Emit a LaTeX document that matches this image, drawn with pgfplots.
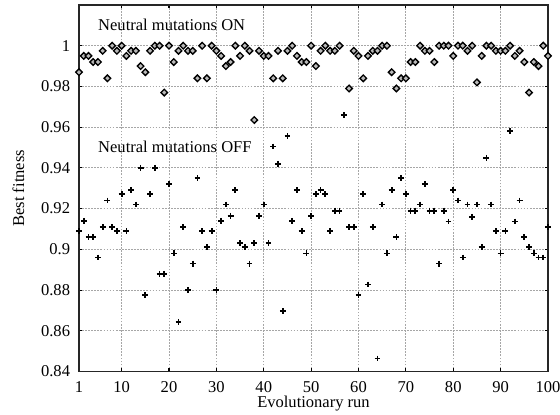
\documentclass[border=0pt]{standalone}
\usepackage{pgfplots}
\pgfplotsset{compat=1.18}
\usepackage{fontspec}
\setmainfont{Liberation Serif}
\begin{document}
\fontsize{12.4pt}{14pt}\selectfont
\begin{tikzpicture}
\begin{axis}[
  at={(0,0)}, anchor=south west,
  scale only axis,
  width=351.75pt, height=274.875pt,
  xmin=1, xmax=100, ymin=0.84, ymax=1.02,
  xtick={1,10,20,30,40,50,60,70,80,90,100},
  ytick={0.84,0.86,0.88,0.9,0.92,0.94,0.96,0.98,1},
  yticklabels={0.84,0.86,0.88,0.9,0.92,0.94,0.96,0.98,1},
  /pgf/number format/assume math mode=true,
  xticklabel style={yshift=-3.5pt},
  yticklabel style={xshift=-2.4pt},
  tick align=inside,
  major tick length=2.3pt,
  tick style={black, line width=0.8pt},
  grid=major,
  major grid style={gray!70, line width=0.6pt, dash pattern=on 1.3pt off 1pt},
  axis line style={black!85, line width=1.1pt},
  xlabel={Evolutionary run},
  ylabel={Best fitness},
  xlabel style={at={(axis description cs:0.5,-0.0887)}, anchor=center},
  ylabel style={at={(axis description cs:-0.129,0.5)}, anchor=center},
  clip=false,
]
\addplot[only marks, mark=square*, mark size=1.75pt,
  mark options={rotate=45, fill=gray!55, draw=black, line width=1pt}]
coordinates {
(1,0.987)(2,0.995)(3,0.995)(4,0.992)(5,0.992)(6,0.9975)(7,0.984)(8,1.0)(9,0.9975)(10,1.0)
(11,0.995)(12,0.9975)(13,0.9975)(14,0.990)(15,0.987)(16,0.9975)(17,1.0)(18,1.0)(19,0.977)(20,1.0)
(21,0.992)(22,0.9975)(23,1.0)(24,0.9975)(25,0.9975)(26,0.984)(27,1.0)(28,0.984)(29,1.0)(30,0.9975)
(31,0.995)(32,0.990)(33,0.992)(34,1.0)(35,0.995)(36,1.0)(37,0.9975)(38,0.9635)(39,0.9975)(40,0.995)
(41,0.995)(42,0.984)(43,0.9975)(44,0.984)(45,0.9975)(46,1.0)(47,0.995)(48,0.992)(49,0.992)(50,1.0)
(51,0.990)(52,0.9975)(53,1.0)(54,0.9975)(55,0.9975)(56,1.0)(58,0.979)(59,0.9975)(60,0.995)
(61,0.984)(62,0.995)(63,0.9975)(64,0.9975)(65,1.0)(66,1.0)(67,0.987)(68,0.979)(69,0.984)(70,0.984)
(71,0.992)(72,0.992)(73,1.0)(74,0.9975)(75,0.9975)(76,0.992)(77,1.0)(78,1.0)(79,1.0)(80,0.995)
(81,1.0)(82,1.0)(83,0.9975)(84,1.0)(85,0.982)(86,0.995)(87,1.0)(88,1.0)(89,0.9975)(90,0.9975)
(91,0.9975)(92,1.0)(93,0.995)(94,0.9975)(95,0.992)(96,0.977)(97,0.992)(98,0.990)(99,1.0)(100,0.995)
};
\addplot[only marks, mark=+, mark size=2.2pt,
  mark options={black, line width=1.3pt}]
coordinates {
(1,0.909)(2,0.914)(3,0.906)(4,0.906)(5,0.896)(6,0.911)(7,0.924)(8,0.911)(9,0.909)(10,0.927)
(11,0.909)(12,0.929)(13,0.922)(14,0.940)(15,0.8775)(16,0.927)(17,0.940)(18,0.888)(19,0.888)(20,0.932)
(21,0.898)(22,0.8644)(23,0.911)(24,0.880)(25,0.893)(26,0.935)(27,0.909)(28,0.901)(29,0.909)(30,0.880)
(31,0.914)(32,0.922)(33,0.9165)(34,0.929)(35,0.903)(36,0.901)(37,0.893)(38,0.903)(39,0.9165)(40,0.922)
(41,0.903)(42,0.9505)(43,0.942)(44,0.8696)(45,0.9556)(46,0.914)(47,0.929)(48,0.909)(49,0.898)(50,0.9165)
(51,0.927)(52,0.929)(53,0.927)(54,0.909)(55,0.919)(56,0.919)(57,0.966)(58,0.911)(59,0.911)(60,0.8775)
(61,0.927)(62,0.8827)(63,0.911)(64,0.8464)(65,0.922)(66,0.898)(67,0.929)(68,0.906)(69,0.935)(70,0.927)
(71,0.919)(72,0.919)(73,0.922)(74,0.932)(75,0.919)(76,0.919)(77,0.893)(78,0.919)(79,0.9137)(80,0.929)
(81,0.924)(82,0.896)(83,0.922)(84,0.916)(85,0.922)(86,0.901)(87,0.945)(88,0.922)(89,0.909)(90,0.898)
(91,0.909)(92,0.958)(93,0.9137)(94,0.924)(95,0.906)(96,0.901)(97,0.898)(98,0.896)(99,0.896)(100,0.911)
};
\node[anchor=west, inner sep=0pt] at (axis cs:5,1.0102) {Neutral mutations ON};
\node[anchor=west, inner sep=0pt] at (axis cs:5,0.9502) {Neutral mutations OFF};
\end{axis}
\pgfresetboundingbox
\path[use as bounding box] (-59.25pt,-31.875pt) rectangle (360.75pt,278.625pt);
\end{tikzpicture}
\end{document}
